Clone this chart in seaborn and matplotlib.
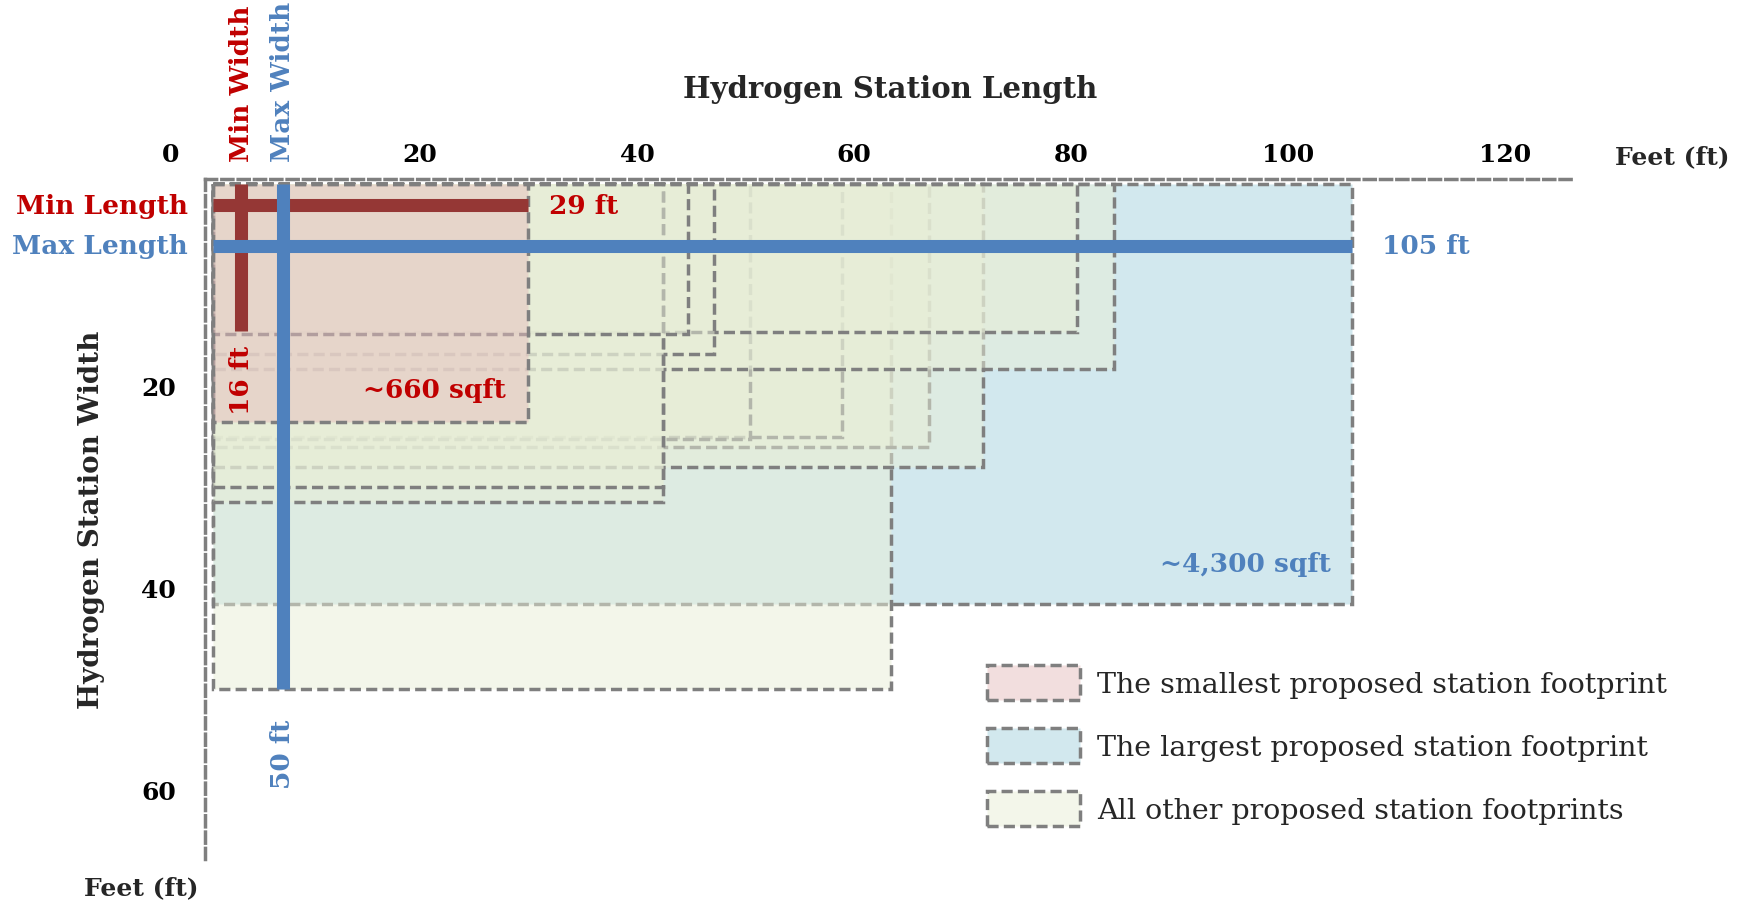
import matplotlib
matplotlib.use("Agg")
import matplotlib.pyplot as plt
import matplotlib.transforms as mtransforms
from matplotlib.patches import Rectangle, Patch
import seaborn as sns

# footprints (ft), in drawing order: largest first, smallest last
footprint_length = [105, 62.5, 66, 58, 49.5, 71, 83, 79.6, 46.2, 41.5, 41.5, 43.8, 29]
footprint_width = [41.6, 50, 26, 25, 25.2, 28, 18.3, 14.7, 16.8, 31.5, 30, 14.9, 23.6]
footprint_kind = ['largest'] + ['other'] * 11 + ['smallest']

# min / max dimension bars (ft)
length_bar_names = ['Min Length', 'Max Length']
length_bar_values = [29, 105]
length_bar_labels = ['29 ft', '105 ft']
width_bar_names = ['Min Width', 'Max Width']
width_bar_values = [14.6, 50]
width_bar_labels = ['16 ft', '50 ft']
area_labels = ['~660 sqft', '~4,300 sqft']

x_ticks = [0, 20, 40, 60, 80, 100, 120]
y_ticks = [20, 40, 60]

legend_labels = ['The smallest proposed station footprint',
                 'The largest proposed station footprint',
                 'All other proposed station footprints']

# styles
RED_TXT = '#c00000'
RED_BAR = '#953735'
BLUE = '#4f81bd'
EDGE = '#7f7f7f'
FILL = {'largest': (0.824, 0.91, 0.933, 1.0),
        'other': (0.91, 0.933, 0.843, 0.5),
        'smallest': (0.90, 0.745, 0.745, 0.5)}
DASH = (0, (3.2, 1.5))
LW = 2.5

sns.set_theme(style='white')
plt.rcParams['font.family'] = ['DejaVu Serif', 'DejaVu Sans']

W_PX, H_PX = 1752, 904
fig = plt.figure(figsize=(W_PX / 100, H_PX / 100), dpi=100)

# pixel mapping of the drawing
x0_px, sx = 213, 10.85
y0_px, sy = 185, 10.1
xlim = (-0.74, 125.5)
ylim = (66.8, -0.5)
left = x0_px + xlim[0] * sx
right = x0_px + xlim[1] * sx
top = y0_px + ylim[1] * sy
bottom = y0_px + ylim[0] * sy
ax = fig.add_axes([left / W_PX, 1 - bottom / H_PX, (right - left) / W_PX, (bottom - top) / H_PX])
ax.set_xlim(*xlim)
ax.set_ylim(*ylim)
ax.set_facecolor('none')

for L, Wd, kind in zip(footprint_length, footprint_width, footprint_kind):
    ax.add_patch(Rectangle((0, 0), L, Wd, facecolor=FILL[kind], edgecolor=EDGE,
                           linewidth=LW, linestyle=DASH, zorder=2))

# dimension bars
length_bar_y = [2.1, 6.1]
width_bar_x = [2.6, 6.45]
bar_colors = [RED_BAR, BLUE]
txt_colors = [RED_TXT, BLUE]
for i in range(2):
    ax.plot([0, length_bar_values[i]], [length_bar_y[i]] * 2, color=bar_colors[i],
            lw=9.4, solid_capstyle='butt', zorder=3 + i)
    ax.plot([width_bar_x[i]] * 2, [0, width_bar_values[i]], color=bar_colors[i],
            lw=9.4, solid_capstyle='butt', zorder=3 + i)

fs_lab = 19
label_gap = [2.0, 2.7]
for i in range(2):
    ax.text(-2.3, length_bar_y[i], length_bar_names[i], color=txt_colors[i], fontsize=fs_lab,
            fontweight='bold', ha='right', va='center', clip_on=False)
    ax.text(width_bar_x[i], -2.3, width_bar_names[i], color=txt_colors[i], fontsize=fs_lab,
            fontweight='bold', ha='center', va='bottom', rotation=90, clip_on=False)
    ax.text(length_bar_values[i] + label_gap[i], length_bar_y[i], length_bar_labels[i],
            color=txt_colors[i], fontsize=fs_lab, fontweight='bold', ha='left', va='center')

ax.text(width_bar_x[0], 19.3, width_bar_labels[0], color=RED_TXT, fontsize=fs_lab,
        fontweight='bold', ha='center', va='center', rotation=90, zorder=6)
ax.text(width_bar_x[1], 56.4, width_bar_labels[1], color=BLUE, fontsize=fs_lab,
        fontweight='bold', ha='center', va='center', rotation=90)
ax.text(27.0, 20.3, area_labels[0], color=RED_TXT, fontsize=fs_lab, fontweight='bold',
        ha='right', va='center', zorder=6)
ax.text(103.0, 37.6, area_labels[1], color=BLUE, fontsize=fs_lab, fontweight='bold',
        ha='right', va='center', zorder=6)

# axes / spines
for side in ['right', 'bottom']:
    ax.spines[side].set_visible(False)
for side in ['top', 'left']:
    ax.spines[side].set_visible(True)
    ax.spines[side].set_color(EDGE)
    ax.spines[side].set_linewidth(LW)
    ax.spines[side].set_linestyle(DASH)

ax.xaxis.tick_top()
ax.set_xticks(x_ticks)
ax.set_xticklabels([str(t) for t in x_ticks])
ax.set_yticks(y_ticks)
ax.set_yticklabels([str(t) for t in y_ticks])
ax.tick_params(axis='x', length=0, pad=9, labelsize=18, colors='black')
ax.tick_params(axis='y', length=0, pad=21, labelsize=18, colors='black')
for lab in ax.get_xticklabels() + ax.get_yticklabels():
    lab.set_fontweight('bold')
xlabs = ax.get_xticklabels()
for k, lab in enumerate(xlabs):
    dx = -0.42 if k == 0 else -0.1
    lab.set_transform(lab.get_transform() +
                      mtransforms.ScaledTranslation(dx, 0, fig.dpi_scale_trans))

ax.xaxis.set_label_position('top')
ax.set_xlabel('Hydrogen Station Length', fontsize=21, fontweight='bold', labelpad=33)
ax.set_ylabel('Hydrogen Station Width', fontsize=20, fontweight='bold', labelpad=26)

ax.text(134.5, -2.8, 'Feet (ft)', fontsize=18, fontweight='bold', ha='center', va='center',
        clip_on=False)
ax.text(-6.6, 69.6, 'Feet (ft)', fontsize=18, fontweight='bold', ha='center', va='center',
        clip_on=False)

handles = [Patch(facecolor=FILL[k], edgecolor=EDGE, linewidth=LW, linestyle=DASH)
           for k in ['smallest', 'largest', 'other']]
ax.legend(handles, legend_labels, loc='upper left', bbox_to_anchor=(987 / W_PX, 1 - 666 / H_PX),
          bbox_transform=fig.transFigure, frameon=False, fontsize=20.5, borderpad=0,
          borderaxespad=0, handlelength=3.26, handleheight=1.52, handletextpad=0.62,
          labelspacing=0.98)

fig.savefig('out.png', dpi=100, facecolor='white')
